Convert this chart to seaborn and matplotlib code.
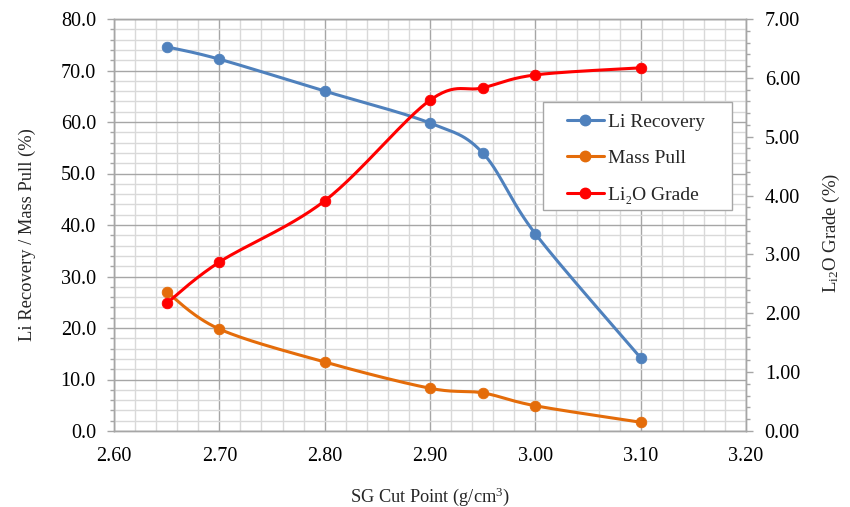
import numpy as np
import pandas as pd
import matplotlib
matplotlib.use("Agg")
import matplotlib.pyplot as plt
from matplotlib.ticker import MultipleLocator, FormatStrFormatter
from matplotlib.lines import Line2D
from matplotlib.patches import Rectangle
import seaborn as sns

sg_cut = [2.65, 2.70, 2.80, 2.90, 2.95, 3.00, 3.10]
li_recovery = [74.6, 72.2, 66.0, 59.8, 54.0, 38.3, 14.2]
mass_pull = [27.0, 19.8, 13.4, 8.3, 7.4, 4.9, 1.7]
li2o_grade = [2.17, 2.87, 3.91, 5.62, 5.83, 6.05, 6.17]

sns.set_theme(style="white")
plt.rcParams['font.family'] = ['Liberation Serif', 'DejaVu Serif']
plt.rcParams['mathtext.fontset'] = 'custom'
plt.rcParams['mathtext.rm'] = 'Liberation Serif'
plt.rcParams['mathtext.it'] = 'Liberation Serif'

def smooth(x, y, n=30):
    # Excel-like smoothed line (Catmull-Rom Bezier) through the data points
    x = np.asarray(x, float); y = np.asarray(y, float)
    xs, ys = [], []
    N = len(x)
    for i in range(N - 1):
        p0 = np.array([x[max(i - 1, 0)], y[max(i - 1, 0)]])
        p1 = np.array([x[i], y[i]])
        p2 = np.array([x[i + 1], y[i + 1]])
        p3 = np.array([x[min(i + 2, N - 1)], y[min(i + 2, N - 1)]])
        c1 = p1 + (p2 - p0) / 6.0
        c2 = p2 - (p3 - p1) / 6.0
        t = np.linspace(0, 1, n)[:, None]
        pts = ((1 - t) ** 3) * p1 + 3 * ((1 - t) ** 2) * t * c1 + 3 * (1 - t) * t ** 2 * c2 + t ** 3 * p2
        xs.extend(pts[:, 0]); ys.extend(pts[:, 1])
    return pd.DataFrame({"x": xs, "y": ys})

c_rec = "#4F81BD"
c_mass = "#E46C0A"
c_grade = "#FF0000"

fig = plt.figure(figsize=(8.5, 5.07), dpi=100)
ax = fig.add_axes([114/850, 1 - 431/507, 632/850, 412/507])
ax2 = ax.twinx()

grid_major = "#A6A6A6"
grid_minor = "#D9D9D9"
ax.set_xlim(2.60, 3.20)
ax.set_ylim(0, 80)
ax2.set_ylim(0, 7)
ax.xaxis.set_major_locator(MultipleLocator(0.1))
ax.xaxis.set_minor_locator(MultipleLocator(0.02))
ax.yaxis.set_major_locator(MultipleLocator(10))
ax.yaxis.set_minor_locator(MultipleLocator(2))
ax2.yaxis.set_major_locator(MultipleLocator(1))
ax2.yaxis.set_minor_locator(MultipleLocator(0.2))
ax.xaxis.set_major_formatter(FormatStrFormatter("%.2f"))
ax.yaxis.set_major_formatter(FormatStrFormatter("%.1f"))
ax2.yaxis.set_major_formatter(FormatStrFormatter("%.2f"))

ax.grid(True, which="minor", color=grid_minor, lw=1.0, zorder=0)
ax.grid(True, which="major", color=grid_major, lw=1.0, zorder=0.5)
ax.set_axisbelow(True)

for a in (ax, ax2):
    for s in a.spines.values():
        s.set_color(grid_major)
        s.set_linewidth(1.0)
    a.tick_params(which="major", direction="out", length=5, width=1, color=grid_major,
                  labelsize=14.5, labelcolor="black")
    a.tick_params(which="minor", direction="out", length=3, width=1, color=grid_major)
ax.tick_params(axis="y", which="major", pad=8)
ax.tick_params(axis="x", which="major", pad=6.5)
ax2.tick_params(axis="y", which="major", pad=8.5)

d = smooth(sg_cut, li_recovery)
sns.lineplot(data=d, x="x", y="y", ax=ax, sort=False, color=c_rec, lw=2.2, estimator=None, zorder=3)
sns.scatterplot(x=sg_cut, y=li_recovery, ax=ax, color=c_rec, s=58, edgecolor=c_rec, zorder=4)
d = smooth(sg_cut, mass_pull)
sns.lineplot(data=d, x="x", y="y", ax=ax, sort=False, color=c_mass, lw=2.2, estimator=None, zorder=3)
sns.scatterplot(x=sg_cut, y=mass_pull, ax=ax, color=c_mass, s=58, edgecolor=c_mass, zorder=4)
d = smooth(sg_cut, li2o_grade)
sns.lineplot(data=d, x="x", y="y", ax=ax2, sort=False, color=c_grade, lw=2.2, estimator=None, zorder=3)
sns.scatterplot(x=sg_cut, y=li2o_grade, ax=ax2, color=c_grade, s=58, edgecolor=c_grade, zorder=4)

ax.set_xlabel("SG Cut Point (g/cm$^3$)", fontsize=13.2, labelpad=14)
ax.set_ylabel("Li Recovery / Mass Pull (%)", fontsize=13.3, labelpad=18)
ax2.set_ylabel("L$_{\\mathrm{i2}}$O Grade (%)", fontsize=13.5, labelpad=15)
ax.yaxis.label.set_y(0.478)
ax2.yaxis.label.set_y(0.48)

# legend box
box = Rectangle((429/632, 221/412), 189/632, 108/412, transform=ax2.transAxes,
                facecolor="white", edgecolor="#A6A6A6", lw=1.0, zorder=9)
ax2.add_patch(box)

handles = [
    Line2D([0], [0], color=c_rec, lw=2.2, marker="o", ms=7.5),
    Line2D([0], [0], color=c_mass, lw=2.2, marker="o", ms=7.5),
    Line2D([0], [0], color=c_grade, lw=2.2, marker="o", ms=7.5),
]
leg = ax2.legend(handles, ["Li Recovery", "Mass Pull", "Li₂O Grade"],
                 loc="upper left", bbox_to_anchor=(453/632, 318/412),
                 frameon=False, fontsize=14, handlelength=1.9,
                 labelspacing=0.98, borderpad=0, handletextpad=0.2, borderaxespad=0)
leg.set_zorder(10)

fig.savefig("out.png", dpi=100)
